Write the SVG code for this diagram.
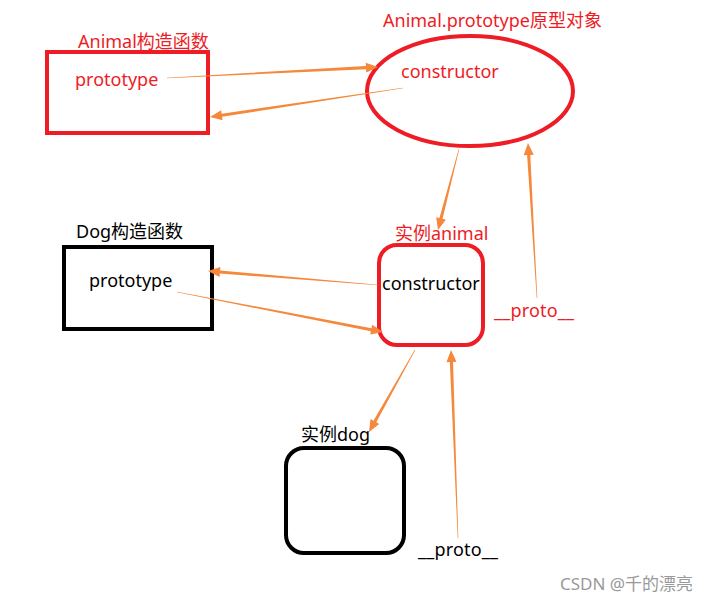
<svg xmlns="http://www.w3.org/2000/svg" width="711" height="602" viewBox="0 0 711 602">
<style>
text{font-family:"Noto Sans","Noto Sans CJK SC",sans-serif;font-size:18px}
.r{fill:#ee1c25}
.k{fill:#000}
.rs{fill:none;stroke:#ee1c25;stroke-width:4}
.ks{fill:none;stroke:#000;stroke-width:4}
.a{fill:#f5883a}
.wm{fill:#999;font-size:17px}
</style>
<rect width="711" height="602" fill="#fff"/>
<g id="animal-ctor">
<rect class="rs" x="47" y="52" width="161" height="81"/>
<text class="r" x="78" y="48">Animal构造函数</text>
<text class="r" x="75" y="86">prototype</text>
</g>
<g id="animal-prototype">
<ellipse class="rs" cx="470" cy="91" rx="103" ry="55"/>
<text class="r" x="383" y="27">Animal.prototype原型对象</text>
<text class="r" x="401" y="78">constructor</text>
</g>
<g id="animal-instance">
<rect class="rs" x="379" y="245" width="104" height="100" rx="18"/>
<text class="r" x="395" y="240">实例animal</text>
<text class="k" x="382" y="290">constructor</text>
</g>
<g id="dog-ctor">
<rect class="ks" x="64" y="247" width="148" height="82"/>
<text class="k" x="76" y="238">Dog构造函数</text>
<text class="k" x="89" y="287">prototype</text>
</g>
<g id="dog-instance">
<rect class="ks" x="286" y="448" width="118" height="105" rx="18"/>
<text class="k" x="301" y="441">实例dog</text>
</g>
<g id="labels">
<text class="r" x="494" y="317" textLength="80">__proto__</text>
<text class="k" x="418" y="556" textLength="80">__proto__</text>
</g>
<g id="connectors" class="a">
<polygon points="167.02,78.30 166.98,77.70 365.92,66.03 365.74,62.64 378,67 366.26,72.62 366.08,69.23"/>
<polygon points="402.96,87.70 403.04,88.30 222.11,116.80 222.61,120.16 210,117 221.13,110.28 221.63,113.64"/>
<polygon points="458.71,148.92 459.29,149.08 442.56,218.78 445.85,219.64 438,230 436.17,217.13 439.46,217.98"/>
<polygon points="378.02,284.70 377.98,285.30 219.83,273.58 219.55,276.97 208,271 220.37,267.01 220.09,270.40"/>
<polygon points="176.94,292.29 177.06,291.71 371.52,328.14 372.17,324.80 383,332 370.27,334.62 370.92,331.28"/>
<polygon points="537.30,297.98 536.70,298.02 527.10,155.07 523.71,155.27 528,143 533.69,154.69 530.30,154.89"/>
<polygon points="414.74,349.85 415.26,350.15 376.27,422.31 379.23,423.98 369,432 370.51,419.08 373.47,420.75"/>
<polygon points="458.30,537.99 457.70,538.01 449.85,362.05 446.45,362.18 451,350 456.45,361.80 453.05,361.93"/>
</g>
<text class="wm" x="560" y="590">CSDN @千的漂亮</text>
</svg>
